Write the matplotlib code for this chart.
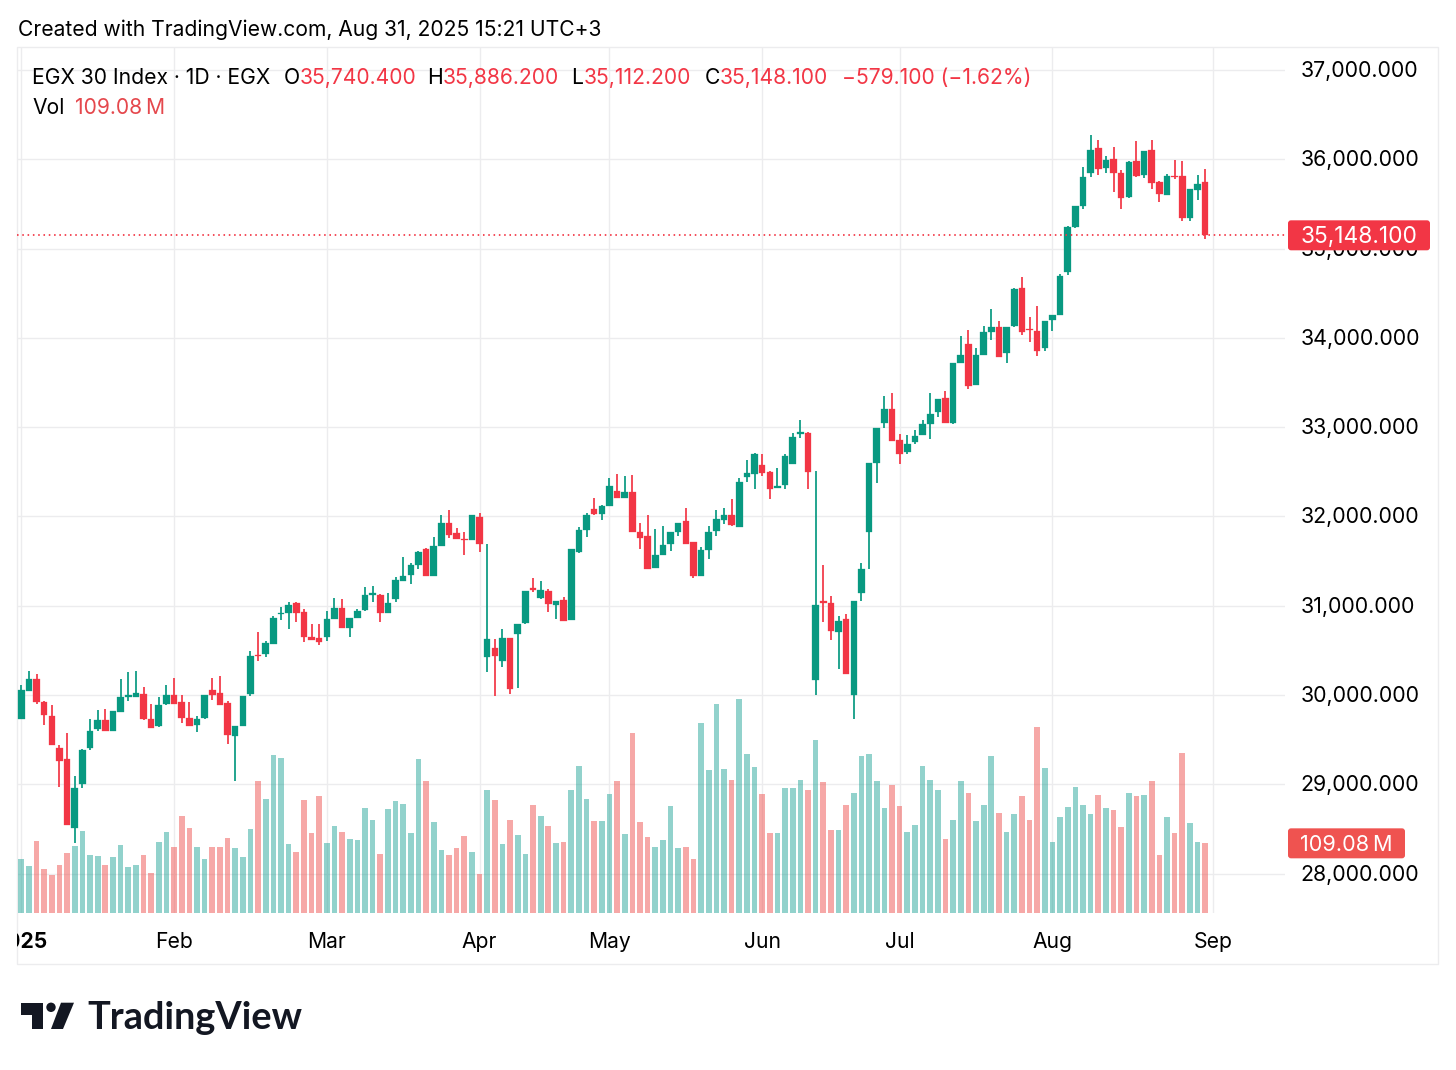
import numpy as np
import matplotlib
matplotlib.use('Agg')
import matplotlib.pyplot as plt
from matplotlib.patches import FancyBboxPatch, Polygon, Circle, Rectangle
from matplotlib.transforms import Affine2D, Bbox, IdentityTransform

# daily candles, EGX 30
opens = [
    29735, 30049, 30183, 29925, 29765, 29407, 29280, 28514, 29007, 29403,
    29623, 29720, 29601, 29813, 29981, 29981, 30011, 29735, 29653, 29899,
    30004, 29922, 29746, 29664, 29743, 30052, 30023, 29907, 29545, 29657,
    30015, 30448, 30459, 30575, 30903, 30915, 31034, 30926, 30646, 30635,
    30646, 30848, 30975, 30754, 30866, 30952, 31124, 31120, 30922, 31072,
    31281, 31348, 31456, 31635, 31337, 31669, 31930, 31811, 31751, 31732,
    31997, 30430, 30530, 30377, 30639, 30687, 30803, 31195, 31087, 31165,
    31012, 31068, 30844, 31602, 31852, 32080, 32031, 32113, 32285, 32203,
    32274, 31826, 31781, 31419, 31568, 31688, 31826, 31949, 31710, 31337,
    31628, 31837, 31960, 32020, 31885, 32438, 32479, 32572, 32498, 32322,
    32352, 32591, 32927, 32934, 30168, 31049, 31027, 30706, 30848, 30000,
    31139, 31826, 32595, 33043, 33207, 32860, 32722, 32834, 32912, 33035,
    33166, 33326, 33043, 33722, 33931, 33476, 33812, 34066, 34118, 33834,
    34133, 34558, 34099, 34073, 33890, 34196, 34260, 34741, 35245, 35477,
    35843, 36123, 35902, 36003, 35843, 35574, 35985, 35828, 36104, 35742,
    35604, 35817, 35817, 35342, 35656, 35740.4,
]
closes = [
    30056, 30176, 29922, 29772, 29436, 29265, 28540, 28955, 29384, 29597,
    29720, 29601, 29817, 29978, 29996, 30023, 29735, 29634, 29884, 30004,
    29903, 29746, 29657, 29728, 30004, 30004, 29892, 29556, 29657, 29989,
    30433, 30437, 30579, 30866, 30915, 31008, 30915, 30646, 30616, 30594,
    30848, 30975, 30754, 30866, 30937, 31124, 31139, 30922, 31034, 31284,
    31333, 31456, 31605, 31337, 31669, 31930, 31792, 31751, 31740, 32016,
    31688, 30627, 30441, 30639, 30067, 30799, 31165, 31176, 31172, 31023,
    31057, 30833, 31632, 31848, 32012, 32027, 32117, 32345, 32203, 32277,
    31826, 31758, 31415, 31572, 31680, 31822, 31927, 31695, 31337, 31624,
    31830, 31968, 32016, 31900, 32382, 32483, 32696, 32490, 32311, 32341,
    32677, 32890, 32942, 32501, 31008, 31034, 30721, 30829, 30239, 31049,
    31411, 32595, 32990, 33199, 32849, 32703, 32811, 32901, 33032, 33147,
    33315, 33046, 33722, 33804, 33461, 33812, 34062, 34122, 33789, 34118,
    34547, 34066, 34088, 33853, 34189, 34260, 34697, 35242, 35473, 35798,
    36100, 35895, 35992, 35843, 35570, 35970, 35817, 36093, 35731, 35615,
    35809, 35802, 35342, 35667, 35720, 35148.1,
]
highs = [
    30112, 30273, 30232, 29937, 29884, 29436, 29578, 29093, 29392, 29728,
    29836, 29847, 29817, 30176, 30254, 30273, 30086, 29896, 29974, 30112,
    30194, 29996, 29925, 29769, 30004, 30194, 30213, 29937, 29657, 29989,
    30493, 30702, 30609, 30885, 30982, 31045, 31045, 30963, 30799, 30792,
    30937, 31083, 31072, 30866, 30967, 31206, 31217, 31128, 31146, 31322,
    31542, 31479, 31617, 31643, 31766, 32020, 32068, 31867, 31822, 32016,
    32038, 31688, 30627, 30739, 30639, 30799, 31168, 31314, 31273, 31191,
    31057, 31094, 31632, 31878, 32035, 32206, 32128, 32427, 32475, 32449,
    32464, 31923, 32020, 31859, 31893, 31822, 31927, 32091, 31710, 31654,
    31897, 32068, 32098, 32199, 32434, 32632, 32714, 32696, 32513, 32539,
    32696, 32931, 33080, 32942, 32509, 31452, 31109, 30885, 30907, 31057,
    31482, 32595, 32990, 33349, 33379, 32920, 32908, 32972, 33080, 33379,
    33315, 33409, 33722, 34021, 34084, 33883, 34133, 34320, 34189, 34118,
    34555, 34678, 34230, 34353, 34189, 34260, 34715, 35249, 35481, 35917,
    36272, 36216, 36037, 36134, 35880, 35977, 36201, 36093, 36216, 35757,
    35832, 35992, 35981, 35667, 35820, 35886.2,
]
lows = [
    29735, 30049, 29903, 29660, 29436, 28970, 28540, 28343, 28959, 29384,
    29601, 29601, 29601, 29813, 29937, 29981, 29724, 29634, 29645, 29888,
    29903, 29690, 29657, 29590, 29735, 29940, 29892, 29455, 29037, 29657,
    29993, 30377, 30429, 30575, 30844, 30743, 30821, 30597, 30616, 30556,
    30605, 30848, 30754, 30646, 30866, 30941, 31042, 30821, 30922, 31042,
    31281, 31240, 31408, 31337, 31337, 31669, 31755, 31751, 31568, 31732,
    31605, 30261, 29993, 30318, 30008, 30082, 30795, 31157, 31079, 30926,
    30851, 30833, 30844, 31594, 31766, 32012, 31964, 32113, 32203, 32203,
    31826, 31635, 31408, 31419, 31568, 31617, 31785, 31695, 31307, 31337,
    31527, 31785, 31919, 31893, 31885, 32389, 32307, 32449, 32199, 32322,
    32311, 32591, 32875, 32311, 30000, 30822, 30616, 30295, 30239, 29735,
    31053, 31415, 32371, 32994, 32849, 32591, 32699, 32815, 32912, 32871,
    33114, 33046, 33039, 33722, 33431, 33476, 33812, 33980, 33789, 33722,
    34122, 34036, 33957, 33801, 33857, 34077, 34260, 34704, 35227, 35440,
    35805, 35824, 35843, 35637, 35447, 35567, 35805, 35794, 35664, 35522,
    35604, 35783, 35313, 35305, 35544, 35112.2,
]
# volume in millions
volumes = [
    85.1, 73.1, 112.7, 68.4, 59.0, 75.7, 93.4, 104.4, 127.9, 90.3,
    89.2, 75.7, 88.2, 105.9, 71.5, 75.7, 90.3, 63.1, 111.7, 126.3,
    103.3, 151.4, 133.6, 102.8, 84.0, 102.8, 102.8, 116.9, 101.2, 88.2,
    131.0, 206.2, 178.0, 247.4, 243.2, 108.6, 95.0, 176.4, 125.3, 183.7,
    109.1, 136.7, 126.3, 115.3, 113.8, 163.9, 145.1, 91.9, 162.8, 174.8,
    171.2, 125.3, 241.6, 206.2, 142.0, 99.2, 90.3, 101.2, 120.0, 95.0,
    60.5, 193.1, 176.4, 108.6, 146.1, 122.6, 91.9, 168.6, 151.4, 135.7,
    110.1, 111.7, 192.1, 230.7, 178.0, 143.5, 143.5, 186.3, 206.2, 124.2,
    282.4, 142.0, 118.5, 102.8, 113.8, 167.0, 101.2, 102.8, 84.0, 297.0,
    223.4, 327.8, 224.9, 207.7, 335.6, 248.4, 229.1, 186.3, 125.3, 125.3,
    196.2, 196.2, 208.8, 192.1, 270.9, 204.6, 129.4, 129.4, 168.6, 187.9,
    245.8, 248.4, 207.2, 163.9, 200.4, 167.0, 126.3, 137.8, 230.7, 208.8,
    192.1, 115.3, 145.1, 206.2, 187.9, 143.5, 169.6, 245.8, 156.0, 126.3,
    154.5, 183.7, 145.1, 290.7, 226.5, 111.7, 150.3, 165.4, 197.3, 168.6,
    154.5, 184.8, 163.9, 161.8, 134.1, 187.9, 182.7, 185.3, 206.2, 90.8,
    150.3, 125.3, 250.5, 140.4, 111.7, 109.08,
]
month_pos = [0, 20, 40, 60, 77, 97, 115, 135, 156]
month_labels = ['2025', 'Feb', 'Mar', 'Apr', 'May', 'Jun', 'Jul', 'Aug', 'Sep']
price_ticks = [28000, 29000, 30000, 31000, 32000, 33000, 34000, 35000, 36000, 37000]
last_close = closes[-1]
last_volume = volumes[-1]

W, H = 1456, 1070
GREEN = '#089981'
RED = '#F23645'
VOL_GREEN = '#26a69a'
VOL_RED = '#ef5350'
INK = '#131722'
GRID = '#ececee'
FS = 15.2

plt.rcParams['font.family'] = ['Inter', 'DejaVu Sans']


def fx(x):
    return x / W


def fy(y):
    return 1 - y / H


def label(x, y, s, color='black', size=FS, **kw):
    # y is the centre of the text, both in pixels from the top left
    return fig.text(fx(x), fy(y + 2), s, color=color, fontsize=size, va='center', **kw)


fig = plt.figure(figsize=(W / 100, H / 100), dpi=100, facecolor='white')

# pane frame
fig.add_artist(Rectangle((fx(17), fy(964)), fx(1421), 917 / H, fill=False,
                         edgecolor=GRID, lw=1, zorder=-1))

ax = fig.add_axes([fx(17), fy(913), fx(1268), 865 / H])
ax.patch.set_alpha(0)
for s in ax.spines.values():
    s.set_visible(False)

idx = np.arange(len(opens))
o = np.array(opens)
c = np.array(closes)
up = c >= o

# volume sits on the pane floor, on its own scale
vol_max = 1354.3
ax.bar(idx, np.array(volumes) / vol_max, width=0.74, bottom=0,
       color=np.where(up, VOL_GREEN, VOL_RED), alpha=0.5, lw=0,
       transform=ax.get_xaxis_transform(), zorder=1.5)

colors = np.where(up, GREEN, RED)
ax.vlines(idx, lows, highs, color=colors, lw=1.25, zorder=2)
ax.bar(idx, np.abs(c - o), bottom=np.minimum(o, c), width=0.86, color=colors,
       edgecolor=colors, lw=0.2, zorder=2.1)

ax.axhline(last_close, color=RED, lw=1.25, linestyle=(0, (0.9, 2.15)), zorder=2.5)

ax.set_xlim(-0.563, 165.45)
ax.set_ylim(27558, 37246)

ax.set_yticks(price_ticks)
ax.set_yticklabels(['{:,.3f}'.format(v) for v in price_ticks])
ax.yaxis.tick_right()
ax.set_xticks(month_pos)
ax.set_xticklabels(month_labels)
ax.tick_params(axis='y', length=0, pad=11, labelsize=15.4, labelcolor='black')
ax.tick_params(axis='x', length=0, pad=14, labelsize=FS, labelcolor='black')
# nudge the price labels a pixel down from the plain centre alignment
for t in ax.get_yticklabels():
    t.set_verticalalignment('center')
    t.set_transform(t.get_transform() + Affine2D().translate(0, -1))
ax.set_axisbelow(True)
ax.grid(True, color=GRID, lw=1)

# the year label runs off the left edge of the pane
year = ax.get_xticklabels()[0]
year.set_fontweight('bold')
year.set_clip_box(Bbox([[17, 0], [1285, H]]))
year.set_clip_on(True)

# header
label(18, 28, 'Created with TradingView.com, Aug 31, 2025 15:21 UTC+3', size=15.15)
label(32, 76, 'EGX 30 Index · 1D · EGX')
for x, s, col in [(284, 'O', 'black'), (300, '35,740.400', RED),
                  (427, 'H', 'black'), (443, '35,886.200', RED),
                  (571, 'L', 'black'), (584, '35,112.200', RED),
                  (705, 'C', 'black'), (720, '35,148.100', RED),
                  (842, '−579.100 (−1.62%)', RED)]:
    label(x, 76, s, color=col)
label(32, 106, 'Vol')
label(75, 106, '109.08\u2009M', color='#e5484d')


def tag(yc, x0, width, s, color, size):
    fig.add_artist(FancyBboxPatch((x0, H - yc - 15), width, 30,
                                  boxstyle='round,pad=0,rounding_size=3',
                                  transform=IdentityTransform(),
                                  facecolor=color, edgecolor='none', zorder=5))
    label(x0 + width / 2, yc, s, color='white', size=size, ha='center', zorder=6)


fig.canvas.draw()
_, price_y = ax.transData.transform((0, last_close))
_, vol_y = ax.transAxes.transform((0, last_volume / vol_max))
tag(H - price_y, 1288, 142, '35,148.100', RED, 16.4)
tag(H - vol_y, 1288, 117, '109.08\u2009M', VOL_RED, 15.6)

# logo
logo = [
    Polygon([(21, 1002.7), (43.3, 1002.7), (43.3, 1029), (32.3, 1029), (32.3, 1015), (21, 1015)]),
    Polygon([(61, 1002.7), (74, 1002.7), (63, 1029), (51, 1029)]),
    Circle((51, 1007.3), 4.7),
]
for p in logo:
    p.set_transform(Affine2D().scale(1, -1).translate(0, H))
    p.set_facecolor(INK)
    p.set_edgecolor('none')
    fig.add_artist(p)
fig.text(fx(87), fy(1029), 'TradingView', color=INK, fontsize=27.3, fontweight='bold',
         family='Lato', va='baseline')

fig.savefig('out.png', dpi=100)
